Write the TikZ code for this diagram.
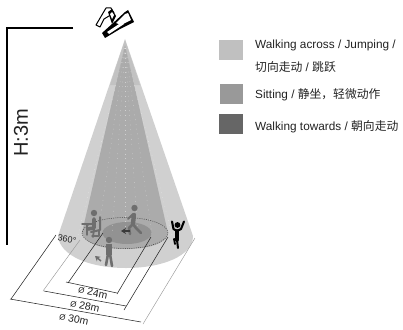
\documentclass[tikz,border=0pt]{standalone}
\usepackage{fontspec}
\setmainfont{Liberation Sans}
\newfontfamily\cjk{Noto Sans CJK SC}
\usetikzlibrary{arrows.meta}
\definecolor{outercone}{HTML}{D0D0D0}
\definecolor{midcone}{HTML}{ABABAB}
\definecolor{diskin}{HTML}{929292}
\definecolor{lg1}{HTML}{C0C0C0}
\definecolor{lg2}{HTML}{999999}
\definecolor{lg3}{HTML}{666666}
\definecolor{person}{HTML}{6E6E6E}
\definecolor{txt}{HTML}{222222}
\tikzset{
  legendbox/.style={draw=none,minimum width=24pt,minimum height=20pt,inner sep=0,anchor=north west},
  legendtext/.style={anchor=west,inner sep=0,text=txt,font=\fontsize{11.8}{14}\selectfont},
  dimline/.style={draw=black!85,line width=0.55pt},
  dimlight/.style={draw=black!40,line width=0.45pt},
  dimtext/.style={inner sep=0,text=txt,font=\fontsize{10.5}{11}\selectfont,rotate=-12},
  limb/.style={draw=person,line width=2.6pt,line cap=round,line join=round},
  jump/.style={draw=black,line width=2.1pt,line cap=round,line join=round},
  ray/.style={draw=white,line width=0.4pt,dash pattern=on 0.8pt off 4pt,opacity=0.45}
}
\begin{document}
\begin{tikzpicture}[x=1pt,y=-1pt]
\useasboundingbox (0,0) rectangle (403,329);
% height bracket
\draw[line width=1.4pt,black] (73,28) -- (7,28) -- (7,245);
\node[rotate=90,inner sep=0,font=\fontsize{20}{24}\selectfont,text=txt] (h) at (21,133) {H:3m};
% cones
\fill[outercone] (125,39) -- (58,236) .. controls (60,256) and (90,268) .. (126,268) .. controls (162,268) and (193,256) .. (193,236) -- cycle;
\fill[black!24] (125,40) -- (110,85) -- (140,85) -- cycle;
\fill[midcone] (125,45) -- (82,233) .. controls (84,243) and (100,249) .. (125,249) .. controls (150,249) and (167,243) .. (168,233) -- cycle;
\fill[diskin] (127,233) ellipse [x radius=24.5pt,y radius=11pt];
\draw[black!75,line width=0.5pt,dash pattern=on 1pt off 1.2pt] (125,233) ellipse [x radius=43pt,y radius=15.5pt];
% rays
\foreach \e in {78,98,112,125,138,152,172}
  \draw[ray] (125,48) -- (\e,235);
% dimension lines
\draw[dimline] (103,233) -- (68,283);
\draw[dimline] (151,237) -- (117,294);
\draw[dimline] (66,282) -- (117,293);
\draw[dimlight] (80,240) -- (43,291);
\draw[dimline] (168,237) -- (124,310);
\draw[dimline] (44,291) -- (126,306);
\draw[dimline] (56,235) -- (11,299);
\draw[dimlight] (195,238) -- (143,324);
\draw[dimline] (10,299) -- (141,322);
\node[dimtext] (d24) at (93,292.5) {{\fontsize{8}{9}\selectfont Ø} 24m};
\node[dimtext] (d28) at (85,306) {{\fontsize{8}{9}\selectfont Ø} 28m};
\node[dimtext] (d30) at (74,319) {{\fontsize{8}{9}\selectfont Ø} 30m};
\node[inner sep=0,rotate=-10,text=txt,font=\fontsize{9}{10}\selectfont] (deg) at (67,239) {360°};
% sitting person
\fill[person] (94,213) circle (3.2);
\draw[limb,line width=3.6pt] (94,219) -- (94,228) -- (88,229);
\draw[limb,line width=1.8pt] (94,229) -- (93,237);
\draw[limb,line width=2pt] (100,217) -- (100,230) -- (91,232);
\draw[limb,line width=1.5pt] (92,236) -- (99,236) (99,230) -- (99,236);
\draw[limb,line width=1.4pt] (82,224) -- (92,224) (87,224) -- (87,235);
% walking person
\fill[person] (134.5,208) circle (3.2);
\draw[limb,line width=4.4pt] (134,215) -- (133,223);
\draw[limb,line width=2pt] (133,214) -- (128,219);
\draw[limb,line width=2.6pt] (133,224) -- (129,228) -- (130,234) (133,224) -- (136,228) -- (141,233);
% standing person
\fill[person] (109,240) circle (3.2);
\draw[limb,line width=6pt,line cap=butt] (109,243.5) -- (109,255);
\draw[limb,line width=2.6pt] (108,254) -- (106,265) (110,254) -- (112,266);
% motion arrows
\draw[diskin!40!black,line width=1.5pt,-{Stealth[length=5pt,width=6pt]}] (130,231) -- (121,231);
\draw[person,line width=1.5pt,-{Stealth[length=5pt,width=6pt]}] (101,261) -- (95,256);
% jumping person
\fill[black] (177.5,225) circle (2.9);
\draw[jump] (172,221.5) -- (173.5,229) -- (177,231) -- (181,229) -- (184,221.5);
\draw[jump,line width=3.6pt] (177,231) -- (177,240);
\draw[jump,line width=2pt] (177,240) -- (178,248);
\draw[jump,line width=1.8pt] (177,240) -- (174,239) -- (175,244);
% camera
\begin{scope}[line join=round]
\draw[black,line width=1pt,fill=white] (96,25) -- (106,8) -- (111,8) -- (114,13) -- (104,19) -- (100,27) -- cycle;
\fill[black] (102,33) -- (112,24) -- (125,12) -- (128,10) -- (134,22) -- (120,29) -- (105,38) -- cycle;
\fill[black] (108,12) -- (112,9) -- (116,16) -- (112,24) -- cycle;
\fill[white] (110,14) -- (112,12) -- (114,15) -- (112,19) -- cycle;
\fill[white] (107,32) -- (122,22) -- (124,24) -- (109,34) -- cycle;
\fill[white] (116,23) -- (125,14) -- (128,13) -- (131,20) -- (121,25) -- cycle;
\end{scope}
% legend
\node[legendbox,fill=lg1] (k1) at (219,40) {};
\node[legendbox,fill=lg2,minimum width=23pt] (k2) at (220,84) {};
\node[legendbox,fill=lg3] (k3) at (219,114) {};
\node[legendtext] (t1) at (255,45) {Walking across / Jumping /};
\node[legendtext] (t2) at (255,67) {{\cjk 切向走动} / {\cjk 跳跃}};
\node[legendtext] (t3) at (255,95) {Sitting / {\cjk 静坐，轻微动作}};
\node[legendtext] (t4) at (255,127) {Walking towards / {\cjk 朝向走动}};
\end{tikzpicture}
\end{document}
